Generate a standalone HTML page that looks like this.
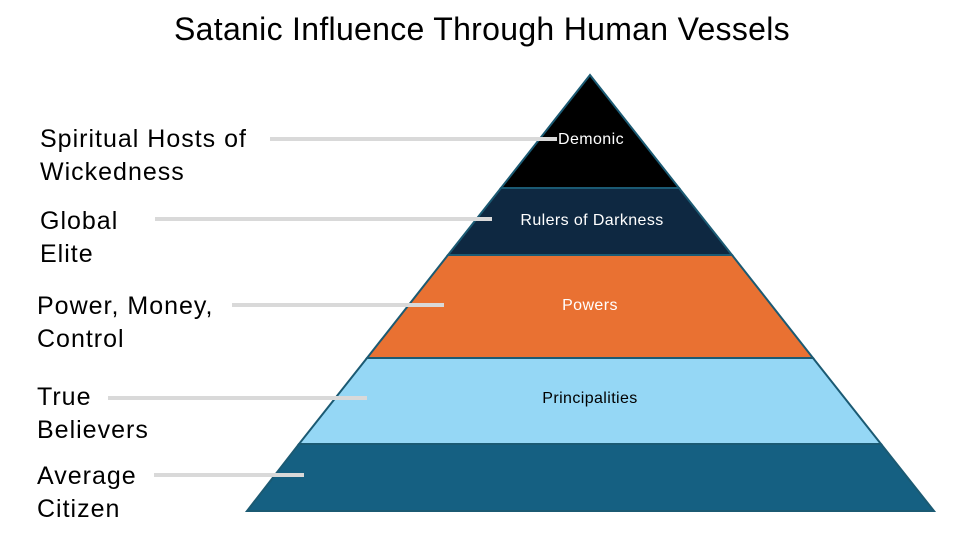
<!DOCTYPE html>
<html><head><meta charset="utf-8"><style>
html,body{margin:0;padding:0;background:#fff;}
body{width:960px;height:540px;overflow:hidden;}
</style></head><body>
<svg width="960" height="540" viewBox="0 0 960 540" xmlns="http://www.w3.org/2000/svg" font-family="Liberation Sans, sans-serif">
<text x="482" y="40" font-size="32" letter-spacing="0.3" text-anchor="middle" fill="#000">Satanic Influence Through Human Vessels</text>
<g stroke="#1b5a73" stroke-width="2" stroke-linejoin="miter">
<polygon points="590,75 679,188 501,188" fill="#000"/>
<polygon points="501,188 679,188 732,255 448,255" fill="#0e2841"/>
<polygon points="448,255 732,255 813,358 367,358" fill="#e97132"/>
<polygon points="367,358 813,358 881,444 299,444" fill="#95d7f5"/>
<polygon points="299,444 881,444 934,511 247,511" fill="#156082"/>
</g>
<g stroke="#d9d9d9" stroke-width="4">
<line x1="270" y1="139" x2="557" y2="139"/>
<line x1="155" y1="219" x2="492" y2="219"/>
<line x1="232" y1="305" x2="444" y2="305"/>
<line x1="108" y1="398" x2="367" y2="398"/>
<line x1="154" y1="475" x2="304" y2="475"/>
</g>
<g font-size="16" letter-spacing="0.4" text-anchor="middle">
<text x="591" y="144" fill="#fff">Demonic</text>
<text x="592" y="225" fill="#fff">Rulers of Darkness</text>
<text x="590" y="310" fill="#fff">Powers</text>
<text x="590" y="403" fill="#000">Principalities</text>
</g>
<g font-size="25" letter-spacing="1" fill="#000">
<text x="40" y="147">Spiritual Hosts of</text>
<text x="40" y="180">Wickedness</text>
<text x="40" y="229">Global</text>
<text x="40" y="262">Elite</text>
<text x="37" y="314">Power, Money,</text>
<text x="37" y="347">Control</text>
<text x="37" y="405">True</text>
<text x="37" y="438">Believers</text>
<text x="37" y="484">Average</text>
<text x="37" y="517">Citizen</text>
</g>
</svg>
</body></html>
